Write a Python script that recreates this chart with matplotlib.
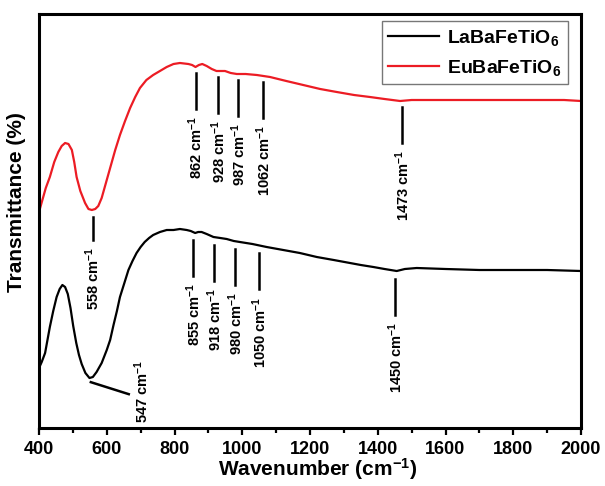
import numpy as np
import matplotlib
matplotlib.use('Agg')
import matplotlib.pyplot as plt
from matplotlib.ticker import MultipleLocator

# (arbitrary transmittance units)
wn_eu = [400, 410, 420, 432, 445, 457, 467, 477, 487, 497, 504, 511, 522, 536, 546,
         556, 566, 575, 585, 595, 605, 615, 625, 639, 654, 669, 684, 698, 717, 737,
         757, 777, 797, 816, 841, 852, 862, 872, 882, 895, 910, 924, 949, 966, 984,
         1010, 1043, 1082, 1130, 1180, 1230, 1279, 1330, 1377, 1420, 1466, 1500,
         1554, 1650, 1750, 1850, 1950, 2000]
t_eu = [216, 228, 240, 251, 266, 276, 282, 285, 284, 278, 266, 251, 237, 225, 219,
        218, 219, 222, 230, 242, 254, 266, 278, 293, 307, 320, 331, 340, 348, 353,
        357, 361, 364, 365, 364, 363, 361, 363, 364, 362, 359, 357, 357, 355, 354,
        354, 353, 351, 347, 343, 339, 336, 333, 331, 329, 327, 328,
        328, 328, 328, 328, 328, 327]

wn_la = [400, 408, 418, 425, 432, 442, 452, 461, 469, 477, 485, 493, 501, 510, 518,
         526, 537, 549, 559, 570, 585, 600, 610, 620, 630, 639, 652, 664, 676, 688,
         700, 712, 725, 737, 757, 777, 797, 816, 836, 848, 861, 870, 880, 895, 915,
         935, 954, 975, 993, 1030, 1072, 1121, 1170, 1220, 1270, 1318, 1350, 1387,
         1420, 1456, 1480, 1515, 1600, 1700, 1800, 1900, 2000]
t_la = [60, 66, 75, 88, 101, 117, 131, 139, 143, 141, 134, 120, 102, 85, 73,
        64, 55, 50, 51, 56, 65, 78, 88, 103, 117, 131, 145, 158, 167, 175,
        181, 186, 190, 193, 196, 198, 198, 199, 198, 197, 195, 196, 196, 194, 191,
        190, 189, 187, 186, 184, 181, 178, 175, 171, 168, 165, 163, 161,
        159, 157, 159, 160, 159, 158, 158, 158, 157]

peaks_eu = [862, 928, 987, 1062, 1473]
peaks_la = [855, 918, 980, 1050, 1450]
min_eu = 558
min_la = 547

plt.rcParams['font.family'] = ['Liberation Sans', 'DejaVu Sans']
plt.rcParams['font.weight'] = 'bold'
plt.rcParams['mathtext.fontset'] = 'custom'
plt.rcParams['mathtext.rm'] = 'Liberation Sans:bold'
plt.rcParams['mathtext.it'] = 'Liberation Sans:bold'
plt.rcParams['mathtext.bf'] = 'Liberation Sans:bold'
plt.rcParams['mathtext.default'] = 'rm'

red = '#ec1c24'

fig = plt.figure(figsize=(6.05, 4.86), dpi=100)
ax = fig.add_axes([39 / 605, 58 / 486, 542 / 605, 414 / 486])

ax.plot(wn_la, t_la, color='black', lw=1.6, label='LaBaFeTiO$_6$')
ax.plot(wn_eu, t_eu, color=red, lw=1.6, label='EuBaFeTiO$_6$')

ax.set_xlim(400, 2000)
ax.set_ylim(0, 414)

seg = 36
ann_fs = 10.5


def mark(wn, xs, ys, gap, length=seg):
    y0 = np.interp(wn, xs, ys)
    ax.plot([wn, wn], [y0 - gap, y0 - gap - length], color='black', lw=1.8)
    ax.text(wn + 2, y0 - gap - length - 7, f'{wn} cm$^{{-1}}$', rotation=90,
            ha='center', va='top', fontsize=ann_fs)


for p in peaks_eu:
    mark(p, wn_eu, t_eu, 6)
for p in peaks_la:
    mark(p, wn_la, t_la, 8)
mark(min_eu, wn_eu, t_eu, 7, length=23)

# diagonal pointer for the black minimum
y_min = np.interp(min_la, wn_la, t_la)
ax.plot([min_la + 6, min_la + 118], [y_min - 5, y_min - 17], color='black', lw=1.8)
ax.text(min_la + 156, y_min - 14, f'{min_la} cm$^{{-1}}$', rotation=90,
        ha='center', va='center', fontsize=ann_fs)

ax.xaxis.set_major_locator(MultipleLocator(200))
ax.xaxis.set_minor_locator(MultipleLocator(100))
ax.tick_params(axis='x', which='major', direction='out', length=5, width=1.6,
               labelsize=13, pad=4)
ax.tick_params(axis='x', which='minor', direction='out', length=3.5, width=1.6)
ax.set_yticks([])
for s in ax.spines.values():
    s.set_linewidth(2.2)

ax.set_xlabel('Wavenumber (cm$^{-1}$)', fontsize=15, fontweight='bold')
ax.xaxis.set_label_coords(0.515, -0.068)
ax.set_ylabel('Transmittance (%)', fontsize=15, fontweight='bold')
ax.yaxis.set_label_coords(-0.024, 0.546)

leg = ax.legend(loc='upper right', bbox_to_anchor=(0.976, 0.983), borderaxespad=0,
                fontsize=14, frameon=True, fancybox=False, edgecolor='#555555',
                handlelength=2.6, handletextpad=0.4, labelspacing=0.5,
                borderpad=0.35)
leg.get_frame().set_linewidth(1.0)
for t in leg.get_texts():
    t.set_fontweight('bold')

fig.savefig('out.png', dpi=100)
